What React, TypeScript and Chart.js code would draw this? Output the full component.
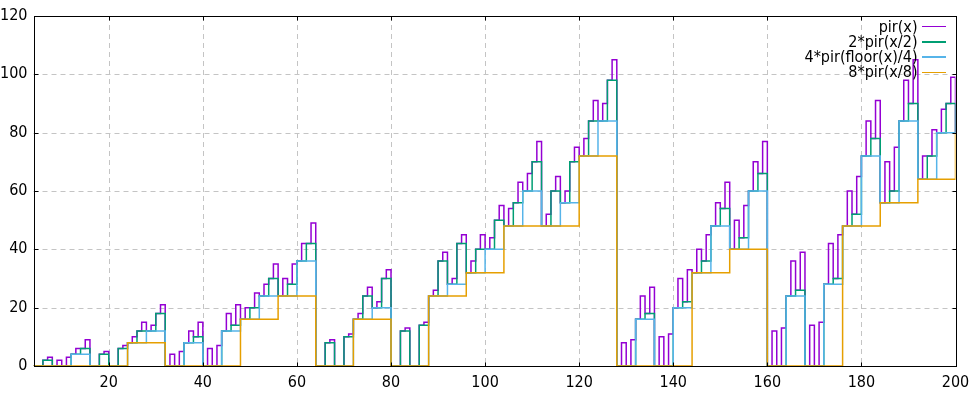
import React, { useEffect, useRef } from "react";
import { Chart, registerables } from "chart.js";

Chart.register(...registerables);

// ---- axes ----
const X_MIN = 4;
const X_MAX = 200;
const Y_MIN = 0;
const Y_MAX = 120;
const xTickValues = [20, 40, 60, 80, 100, 120, 140, 160, 180, 200];
const yTickValues = [0, 20, 40, 60, 80, 100, 120];

// ---- series labels / colours ----
const seriesLabels = ["pir(x)", "2*pir(x/2)", "4*pir(floor(x)/4)", "8*pir(x/8)"];
const seriesColors = ["#9400d3", "#009e73", "#56b4e9", "#e69f00"];

// pir(x), sampled at x = 4, 5, ..., 200
const pirStart = 4;
const pirStep = 1;
const pirValues = [
  0, 0, 2, 3, 0, 2, 0, 3, 4, 6, 6, 9,
  0, 0, 4, 5, 0, 0, 6, 7, 8, 10, 12, 15, 12, 14, 18, 21,
  0, 4, 0, 5, 8, 12, 10, 15, 0, 6, 0, 7, 12, 18, 14, 21,
  16, 20, 20, 25, 24, 28, 30, 35, 24, 30, 28, 35, 36, 42, 42, 49,
  0, 0, 8, 9, 0, 0, 10, 11, 16, 18, 24, 27, 20, 22, 30, 33,
  0, 0, 12, 13, 0, 0, 14, 15, 24, 26, 36, 39, 28, 30, 42, 45,
  32, 36, 40, 45, 40, 44, 50, 55, 48, 54, 56, 63, 60, 66, 70, 77,
  48, 52, 60, 65, 56, 60, 70, 75, 72, 78, 84, 91, 84, 90, 98, 105,
  0, 8, 0, 9, 16, 24, 18, 27, 0, 10, 0, 11, 20, 30, 22, 33,
  32, 40, 36, 45, 48, 56, 54, 63, 40, 50, 44, 55, 60, 70, 66, 77,
  0, 12, 0, 13, 24, 36, 26, 39, 0, 14, 0, 15, 28, 42, 30, 45,
  48, 60, 52, 65, 72, 84, 78, 91, 56, 70, 60, 75, 84, 98, 90, 105,
  64, 72, 72, 81, 80, 88, 90, 99, 80,
];

// 2*pir(x/2), one value per 2-wide step starting at x = 4
const halfStart = 4;
const halfStep = 2;
const halfValues = [
  0, 2, 0, 0, 4, 6, 0, 4, 0, 6, 8, 12, 12, 18,
  0, 0, 8, 10, 0, 0, 12, 14, 16, 20, 24, 30, 24, 28, 36, 42,
  0, 8, 0, 10, 16, 24, 20, 30, 0, 12, 0, 14, 24, 36, 28, 42,
  32, 40, 40, 50, 48, 56, 60, 70, 48, 60, 56, 70, 72, 84, 84, 98,
  0, 0, 16, 18, 0, 0, 20, 22, 32, 36, 48, 54, 40, 44, 60, 66,
  0, 0, 24, 26, 0, 0, 28, 30, 48, 52, 72, 78, 56, 60, 84, 90,
  64, 72, 80, 90, 80,
];

// 4*pir(floor(x)/4), one value per 4-wide step starting at x = 4
const quarterStart = 4;
const quarterStep = 4;
const quarterValues = [
  0, 0, 4, 0, 0, 8, 12, 0, 8, 0, 12, 16, 24, 24, 36,
  0, 0, 16, 20, 0, 0, 24, 28, 32, 40, 48, 60, 48, 56, 72, 84,
  0, 16, 0, 20, 32, 48, 40, 60, 0, 24, 0, 28, 48, 72, 56, 84,
  64, 80, 80,
];

// 8*pir(x/8), one value per 8-wide step starting at x = 0
const eighthStart = 0;
const eighthStep = 8;
const eighthValues = [
  0, 0, 0, 8, 0, 0, 16, 24, 0, 16, 0, 24, 32, 48, 48, 72,
  0, 0, 32, 40, 0, 0, 48, 56, 64, 80,
];

const FONT_FAMILY = '"DejaVu Sans Condensed", "DejaVu Sans", sans-serif';

function toPoints(values: number[], start: number, step: number) {
  return values.map((y, i) => ({ x: start + i * step, y }));
}

const framePlugin = {
  id: "gnuframe",
  beforeDatasetsDraw(chart: any) {
    const { ctx, chartArea: a, scales } = chart;
    ctx.save();
    ctx.strokeStyle = "#c4c4c4";
    ctx.lineWidth = 1;
    ctx.setLineDash([5, 4]);
    for (const v of xTickValues) {
      if (v <= X_MIN || v >= X_MAX) continue;
      const px = Math.round(scales.x.getPixelForValue(v)) + 0.5;
      ctx.beginPath();
      ctx.moveTo(px, a.top);
      ctx.lineTo(px, a.bottom);
      ctx.stroke();
    }
    for (const v of yTickValues) {
      if (v <= Y_MIN || v >= Y_MAX) continue;
      const py = Math.round(scales.y.getPixelForValue(v)) + 0.5;
      ctx.beginPath();
      ctx.moveTo(a.left, py);
      ctx.lineTo(a.right, py);
      ctx.stroke();
    }
    ctx.restore();
  },
  afterDatasetsDraw(chart: any) {
    const { ctx, chartArea: a, scales } = chart;
    ctx.save();
    ctx.strokeStyle = "#000000";
    ctx.lineWidth = 1;
    ctx.setLineDash([]);
    const L = Math.round(a.left) + 0.5;
    const R = Math.round(a.right) + 0.5;
    const T = Math.round(a.top) + 0.5;
    const B = Math.round(a.bottom) + 0.5;
    ctx.strokeRect(L, T, R - L, B - T);
    const tl = 4;
    ctx.beginPath();
    for (const v of xTickValues) {
      if (v <= X_MIN || v >= X_MAX) continue;
      const px = Math.round(scales.x.getPixelForValue(v)) + 0.5;
      ctx.moveTo(px, B);
      ctx.lineTo(px, B - tl);
      ctx.moveTo(px, T);
      ctx.lineTo(px, T + tl);
    }
    for (const v of yTickValues) {
      if (v <= Y_MIN || v >= Y_MAX) continue;
      const py = Math.round(scales.y.getPixelForValue(v)) + 0.5;
      ctx.moveTo(L, py);
      ctx.lineTo(L + tl, py);
      ctx.moveTo(R, py);
      ctx.lineTo(R - tl, py);
    }
    ctx.stroke();
    ctx.restore();
  },
};

export default function App() {
  const canvasRef = useRef<HTMLCanvasElement | null>(null);

  useEffect(() => {
    if (!canvasRef.current) return;
    const seriesData = [
      toPoints(pirValues, pirStart, pirStep),
      toPoints(halfValues, halfStart, halfStep),
      toPoints(quarterValues, quarterStart, quarterStep),
      toPoints(eighthValues, eighthStart, eighthStep),
    ];
    const chart = new Chart(canvasRef.current, {
      type: "line",
      data: {
        datasets: seriesData.map((d, i) => ({
          label: seriesLabels[i],
          data: d,
          borderColor: seriesColors[i],
          backgroundColor: seriesColors[i],
          borderWidth: 1.5,
          pointRadius: 0,
          stepped: "before" as const,
          fill: false,
          tension: 0,
          order: 4 - i,
        })),
      },
      options: {
        animation: false,
        responsive: true,
        maintainAspectRatio: false,
        devicePixelRatio: 1,
        parsing: false,
        normalized: true,
        layout: { padding: { top: 16, right: 15.5, left: 0, bottom: 0 } },
        plugins: { legend: { display: false }, tooltip: { enabled: false } },
        events: [],
        scales: {
          x: {
            type: "linear",
            min: X_MIN,
            max: X_MAX,
            grid: { display: false, drawTicks: false },
            border: { display: false },
            afterBuildTicks: (scale: any) => {
              scale.ticks = xTickValues.map((v) => ({ value: v }));
            },
            afterFit: (scale: any) => {
              scale.height = 32;
              scale.paddingLeft = 0;
              scale.paddingRight = 0;
            },
            ticks: {
              autoSkip: false,
              maxRotation: 0,
              minRotation: 0,
              padding: 7,
              color: "#000000",
              font: { family: FONT_FAMILY, size: 16 },
            },
          },
          y: {
            type: "linear",
            min: Y_MIN,
            max: Y_MAX,
            grid: { display: false, drawTicks: false },
            border: { display: false },
            afterBuildTicks: (scale: any) => {
              scale.ticks = yTickValues.map((v) => ({ value: v }));
            },
            afterFit: (scale: any) => {
              scale.width = 33.5;
              scale.paddingTop = 0;
              scale.paddingBottom = 0;
            },
            ticks: {
              padding: 6,
              color: "#000000",
              font: { family: FONT_FAMILY, size: 16 },
            },
          },
        },
      },
      plugins: [framePlugin],
    });
    return () => chart.destroy();
  }, []);

  const legendRowY = [26.5, 41.8, 57.1, 72.4];

  return (
    <div
      style={{
        position: "fixed",
        left: 0,
        top: 0,
        width: 971,
        height: 398,
        background: "#ffffff",
        overflow: "hidden",
      }}
    >
      <canvas ref={canvasRef} />
      {seriesLabels.map((lab, i) => (
        <React.Fragment key={lab}>
          <div
            style={{
              position: "absolute",
              right: 971 - 917.5,
              top: legendRowY[i] - 10,
              height: 20,
              lineHeight: "20px",
              fontFamily: FONT_FAMILY,
              fontSize: 16,
              color: "#000000",
              whiteSpace: "nowrap",
              textAlign: "right",
            }}
          >
            {lab}
          </div>
          <div
            style={{
              position: "absolute",
              left: 922,
              width: 24,
              top: legendRowY[i] - 0.75,
              height: 1.5,
              background: seriesColors[i],
            }}
          />
        </React.Fragment>
      ))}
    </div>
  );
}
